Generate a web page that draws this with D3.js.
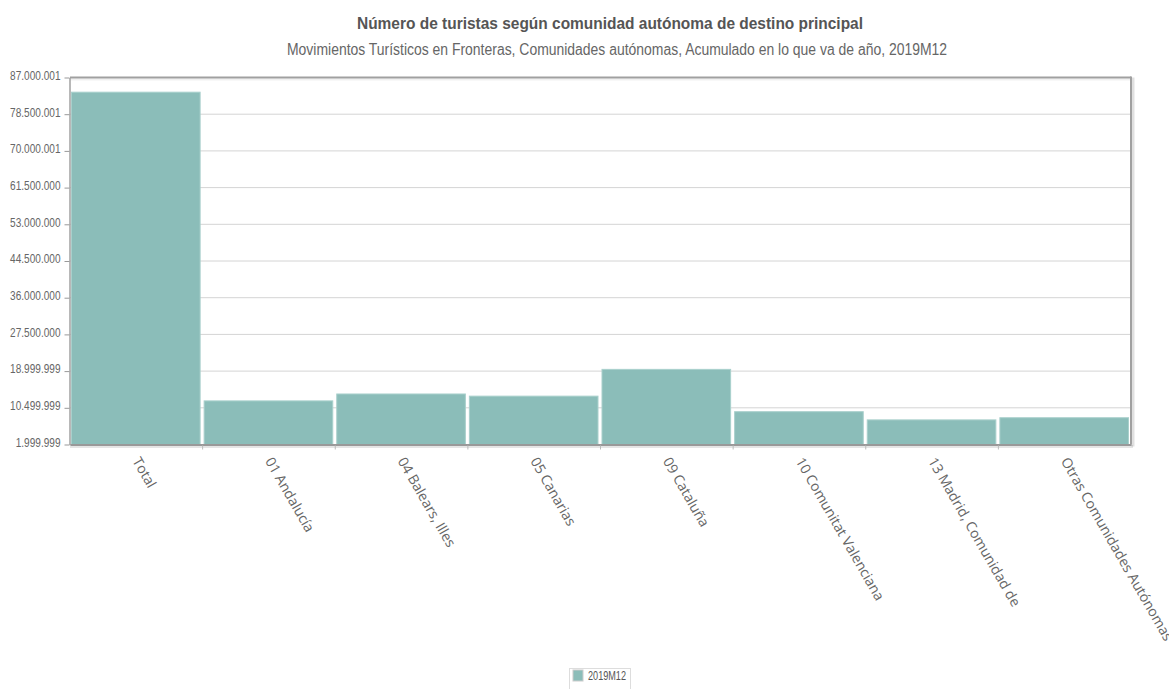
<!DOCTYPE html>
<html>
<head>
<meta charset="utf-8">
<script src="https://cdn.jsdelivr.net/npm/d3@7"></script>
<style>
  html, body { margin: 0; padding: 0; background: #fff; }
  svg { display: block; }
</style>
</head>
<body>
<svg id="chart" width="1169" height="689"></svg>
<script>
const categories = ["Total", "01 Andalucía", "04 Balears, Illes", "05 Canarias", "09 Cataluña",
  "10 Comunitat Valenciana", "13 Madrid, Comunidad de", "Otras Comunidades Autónomas"];
const values2019M12 = [83600000, 12100000, 13700000, 13200000, 19400000, 9600000, 7700000, 8200000];
const yTickValues = [1999999, 10499999, 18999999, 27500000, 36000000, 44500000, 53000000, 61500000, 70000001, 78500001, 87000001];
const seriesName = "2019M12";
const titleText = "Número de turistas según comunidad autónoma de destino principal";
const subtitleText = "Movimientos Turísticos en Fronteras, Comunidades autónomas, Acumulado en lo que va de año, 2019M12";

const svg = d3.select("#chart");
const pLeft = 70, pRight = 1131, pTop = 77.5, pBottom = 444.5;
const barColor = "#8bbdb9";

const locale = d3.formatLocale({decimal: ",", thousands: ".", grouping: [3], currency: ["", "€"]});
const fmt = locale.format(",d");

const x = d3.scaleBand().domain(categories).range([pLeft, pRight]);
const y = d3.scaleLinear().domain([yTickValues[0], yTickValues[yTickValues.length - 1]]).range([pBottom, pTop]);

// title
svg.append("text").attr("x", 610).attr("y", 29).attr("text-anchor", "middle")
  .attr("font-family", "Liberation Sans, Arial, sans-serif").attr("font-size", 16).attr("font-weight", "bold")
  .attr("fill", "#555").attr("textLength", 506).attr("lengthAdjust", "spacingAndGlyphs").text(titleText);
svg.append("text").attr("x", 617).attr("y", 55).attr("text-anchor", "middle")
  .attr("font-family", "Liberation Sans, Arial, sans-serif").attr("font-size", 16)
  .attr("fill", "#666").attr("textLength", 660).attr("lengthAdjust", "spacingAndGlyphs").text(subtitleText);

// gridlines
svg.append("g").selectAll("line").data(yTickValues).join("line")
  .attr("x1", pLeft).attr("x2", pRight).attr("y1", d => y(d)).attr("y2", d => y(d))
  .attr("stroke", "#d4d4d4").attr("stroke-width", 1);

// bars
svg.append("g").selectAll("rect").data(categories).join("rect")
  .attr("x", d => x(d) + 1.5)
  .attr("width", x.bandwidth() - 4)
  .attr("y", (d, i) => y(values2019M12[i]))
  .attr("height", (d, i) => pBottom - y(values2019M12[i]))
  .attr("fill", barColor).attr("stroke", "#a9d0cc").attr("stroke-width", 1);

// frame with shadows
const frame = svg.append("g");
frame.append("line").attr("x1", pLeft).attr("x2", pRight + 1).attr("y1", pTop + 2).attr("y2", pTop + 2).attr("stroke", "rgba(0,0,0,0.06)").attr("stroke-width", 2);
frame.append("line").attr("x1", pRight + 2).attr("x2", pRight + 2).attr("y1", pTop).attr("y2", pBottom + 2).attr("stroke", "rgba(0,0,0,0.12)").attr("stroke-width", 3);
frame.append("line").attr("x1", pLeft).attr("x2", pRight + 2).attr("y1", pBottom + 2).attr("y2", pBottom + 2).attr("stroke", "rgba(0,0,0,0.10)").attr("stroke-width", 3);
frame.append("line").attr("x1", pLeft).attr("x2", pRight).attr("y1", pTop).attr("y2", pTop).attr("stroke", "#a0a0a0").attr("stroke-width", 2);
frame.append("line").attr("x1", pRight).attr("x2", pRight).attr("y1", pTop - 1).attr("y2", pBottom).attr("stroke", "#a0a0a0").attr("stroke-width", 2);

// y axis
const yAxis = d3.axisLeft(y).tickValues(yTickValues).tickFormat(fmt).tickSize(5).tickSizeOuter(0).tickPadding(4);
const gy = svg.append("g").attr("transform", `translate(${pLeft - 0.5},0)`).call(yAxis);
gy.select(".domain").attr("stroke", "#a0a0a0").attr("stroke-width", 1.5);
gy.selectAll(".tick line").attr("stroke", "#999");
gy.selectAll(".tick text").each(function () {
  const t = d3.select(this);
  const xx = +t.attr("x");
  t.attr("x", null).attr("transform", `translate(${xx},-2) scale(0.84,1)`);
}).attr("font-family", "Liberation Sans, Arial, sans-serif").attr("font-size", 12).attr("fill", "#666");

// x axis
const xAxis = d3.axisBottom(x).tickSize(0).tickSizeOuter(0).tickFormat(d => d);
const gx = svg.append("g").attr("transform", `translate(0,${pBottom})`).call(xAxis);
gx.select(".domain").attr("stroke", "#999").attr("stroke-width", 2);
gx.selectAll(".tick text")
  .attr("text-anchor", "start").attr("y", null).attr("dy", "0.35em")
  .attr("transform", "translate(0,14) rotate(60)")
  .attr("font-family", "Open Sans, sans-serif").attr("font-size", 14).attr("fill", "#666");
// boundary ticks between categories
svg.append("g").selectAll("line").data(categories.slice(1)).join("line")
  .attr("x1", d => x(d)).attr("x2", d => x(d)).attr("y1", pBottom + 1).attr("y2", pBottom + 5)
  .attr("stroke", "#bbb").attr("stroke-width", 1);

// legend
const lg = svg.append("g").attr("transform", "translate(569,668)");
lg.append("rect").attr("x", 0.5).attr("y", 0.5).attr("width", 61).attr("height", 22).attr("fill", "#fff").attr("stroke", "#ddd");
lg.append("rect").attr("x", 4).attr("y", 2).attr("width", 10).attr("height", 11).attr("fill", barColor).attr("stroke", "#ccc");
lg.append("text").attr("x", 19).attr("y", 12).attr("font-family", "Liberation Sans, Arial, sans-serif").attr("font-size", 12)
  .attr("fill", "#555").attr("textLength", 38).attr("lengthAdjust", "spacingAndGlyphs").text(seriesName);
</script>
</body>
</html>
